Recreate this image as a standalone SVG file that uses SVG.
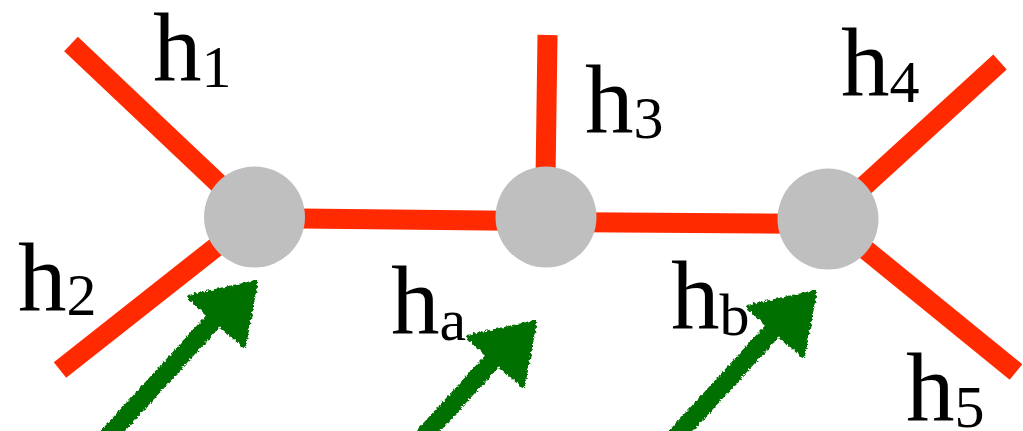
<svg xmlns="http://www.w3.org/2000/svg" xmlns:xlink="http://www.w3.org/1999/xlink" width="1023" height="431" viewBox="0 0 1023 431">
<style>
.edge{stroke:#ff2a00;stroke-width:20;fill:none;stroke-linecap:butt}
.node{fill:#bfbfbf}
.lbl{font-family:"Liberation Serif","Times New Roman",serif;font-size:97px;fill:#000}
.sub{font-size:60px}
.arrow{fill:#006f00;stroke:#006f00}
</style>
<defs>
<filter id="rough" x="-20%" y="-20%" width="140%" height="140%">
<feTurbulence type="fractalNoise" baseFrequency="0.35" numOctaves="2" seed="3" result="n"/>
<feDisplacementMap in="SourceGraphic" in2="n" scale="5" xChannelSelector="R" yChannelSelector="G"/>
</filter>
<g id="arrowShape" class="arrow" filter="url(#rough)">
<path d="M100,445 L214,320" stroke-width="18" fill="none"/>
<path d="M189,297 L256,282 L244,346 Z" stroke-width="4" stroke-linejoin="round"/>
</g>
</defs>
<rect width="1023" height="431" fill="#fff"/>
<g id="connectors">
<line class="edge" x1="71" y1="44" x2="254" y2="217"/>
<line class="edge" x1="60" y1="370" x2="254" y2="217"/>
<line class="edge" x1="254" y1="218" x2="546" y2="221"/>
<line class="edge" x1="546" y1="222" x2="828" y2="224"/>
<line class="edge" x1="547.5" y1="35" x2="545" y2="217"/>
<line class="edge" x1="1000" y1="62" x2="828" y2="219"/>
<line class="edge" x1="1016" y1="372" x2="828" y2="219"/>
</g>
<g id="node1"><circle class="node" cx="254.5" cy="217" r="50.5"/></g>
<g id="node2"><circle class="node" cx="546" cy="217" r="50.5"/></g>
<g id="node3"><circle class="node" cx="828" cy="219" r="50.5"/></g>
<g id="arrows">
<use xlink:href="#arrowShape"/>
<use xlink:href="#arrowShape" transform="translate(279,40)"/>
<use xlink:href="#arrowShape" transform="translate(559,10)"/>
</g>
<g id="labels">
<text class="lbl" x="153" y="80" font-family="Liberation Serif, serif">h<tspan class="sub" dy="7">1</tspan></text>
<text class="lbl" x="18" y="310" font-family="Liberation Serif, serif">h<tspan class="sub" dy="5">2</tspan></text>
<text class="lbl" x="585" y="132" font-family="Liberation Serif, serif">h<tspan class="sub" dy="6">3</tspan></text>
<text class="lbl" x="841" y="95" font-family="Liberation Serif, serif">h<tspan class="sub" dy="7">4</tspan></text>
<text class="lbl" x="906" y="420" font-family="Liberation Serif, serif">h<tspan class="sub" dy="7">5</tspan></text>
<text class="lbl" x="391" y="333" font-family="Liberation Serif, serif">h<tspan class="sub" dy="7">a</tspan></text>
<text class="lbl" x="671" y="328" font-family="Liberation Serif, serif">h<tspan class="sub" dy="7">b</tspan></text>
</g>
</svg>
